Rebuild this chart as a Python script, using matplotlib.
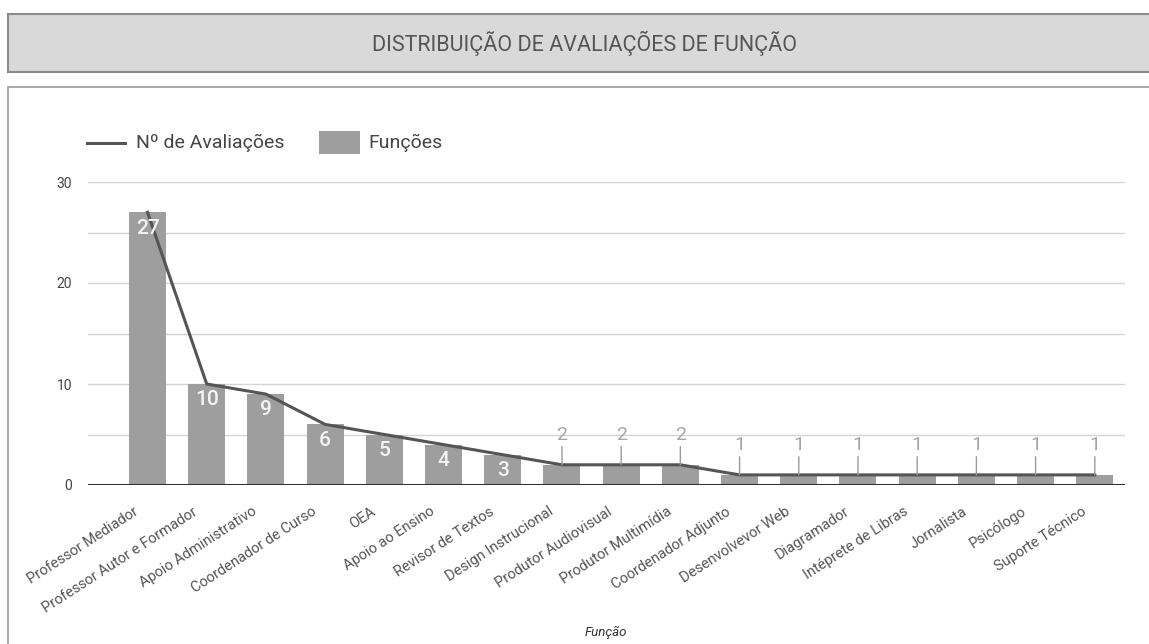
import matplotlib
matplotlib.use("Agg")
import matplotlib.pyplot as plt
import matplotlib.transforms as mtransforms
from matplotlib.patches import Rectangle
from matplotlib.lines import Line2D

# Data
funcoes = [
    "Professor Mediador", "Professor Autor e Formador", "Apoio Administrativo",
    "Coordenador de Curso", "OEA", "Apoio ao Ensino", "Revisor de Textos",
    "Design Instrucional", "Produtor Audiovisual", "Produtor Multimídia",
    "Coordenador Adjunto", "Desenvolvevor Web", "Diagramador",
    "Intéprete de Libras", "Jornalista", "Psicólogo", "Suporte Técnico",
]
avaliacoes = [27, 10, 9, 6, 5, 4, 3, 2, 2, 2, 1, 1, 1, 1, 1, 1, 1]
y_ticks = [0, 5, 10, 15, 20, 25, 30]
y_tick_labels = ["0", "", "10", "", "20", "", "30"]

titulo = "DISTRIBUIÇÃO DE AVALIAÇÕES DE FUNÇÃO"
legenda_linha = "Nº de Avaliações"
legenda_barra = "Funções"
eixo_x = "Função"

BAR_COLOR = "#9e9e9e"
LINE_COLOR = "#555555"

W, H, DPI = 1149, 644, 100
plt.rcParams["font.family"] = ["Roboto", "DejaVu Sans"]
fig = plt.figure(figsize=(W / DPI, H / DPI), dpi=DPI)
fig.patch.set_facecolor("white")


def fx(x):
    return x / W


def fy(y):
    return 1 - y / H


# Title banner
fig.add_artist(Rectangle((fx(8), fy(72)), fx(W + 20), 58 / H,
                         transform=fig.transFigure, facecolor="#d9d9d9",
                         edgecolor="#8a8a8a", linewidth=1.5, zorder=-5))
fig.text(fx(584), fy(43), titulo, ha="center", va="center",
         fontsize=15.5, color="#555555")

# Chart frame
fig.add_artist(Rectangle((fx(8), -0.1), 1.2, fy(87) + 0.1,
                         transform=fig.transFigure, facecolor="white",
                         edgecolor="#9a9a9a", linewidth=1.2, zorder=-5))

ax = fig.add_axes([fx(88), fy(485), (1125 - 88) / W, (485 - 182) / H])
ax.set_facecolor("none")
x = list(range(len(funcoes)))
ax.set_xlim(-1.005, 16.51)
ax.set_ylim(0, 30)
for s in ax.spines.values():
    s.set_visible(False)

ax.set_yticks(y_ticks)
ax.set_yticklabels(y_tick_labels, fontsize=10, color="#444444")
ax.yaxis.grid(True, color="#d4d4d4", linewidth=1)
ax.set_axisbelow(True)
ax.tick_params(axis="y", length=0, pad=11.5)

ax.bar(x, avaliacoes, width=0.625, color=BAR_COLOR, zorder=2)
ax.plot(x, avaliacoes, color=LINE_COLOR, linewidth=2.2, zorder=3,
        solid_joinstyle="round")
ax.axhline(0, color="#333333", linewidth=1.5, zorder=4)

# Value labels
for i, v in zip(x, avaliacoes):
    if v >= 3:
        ax.annotate(str(v), (i, v), xytext=(0, -4.5), textcoords="offset points",
                    ha="center", va="top", color="#f4f4f4", fontsize=15,
                    fontweight="medium", zorder=5)
    else:
        ax.annotate(str(v), (i, v), xytext=(0, 18), textcoords="offset points",
                    ha="center", va="baseline", color="#a6a6a6", fontsize=14,
                    zorder=5,
                    arrowprops=dict(arrowstyle="-", color="#9a9a9a", lw=1,
                                    shrinkA=0, shrinkB=0))

ax.set_xticks(x)
ax.set_xticklabels(funcoes, rotation=33, ha="right", va="top",
                   rotation_mode="anchor", fontsize=10.5, color="#555555")
ax.tick_params(axis="x", length=0, pad=14)
shift = mtransforms.ScaledTranslation(-14 / DPI, 0, fig.dpi_scale_trans)
for lab in ax.get_xticklabels():
    lab.set_transform(lab.get_transform() + shift)

fig.text(fx(606), fy(632), eixo_x, ha="center", va="center",
         fontsize=9.5, style="italic", color="#333333")

# Legend
fig.add_artist(Line2D([fx(87), fx(125)], [fy(143), fy(143)],
                      color=LINE_COLOR, linewidth=2.2))
fig.text(fx(136), fy(143), legenda_linha, ha="left", va="center",
         fontsize=14, color="#444444")
fig.add_artist(Rectangle((fx(319), fy(154)), 41 / W, 23 / H,
                         transform=fig.transFigure, facecolor=BAR_COLOR,
                         edgecolor="none"))
fig.text(fx(368), fy(143), legenda_barra, ha="left", va="center",
         fontsize=14, color="#444444")

fig.savefig("out.png", dpi=DPI)
